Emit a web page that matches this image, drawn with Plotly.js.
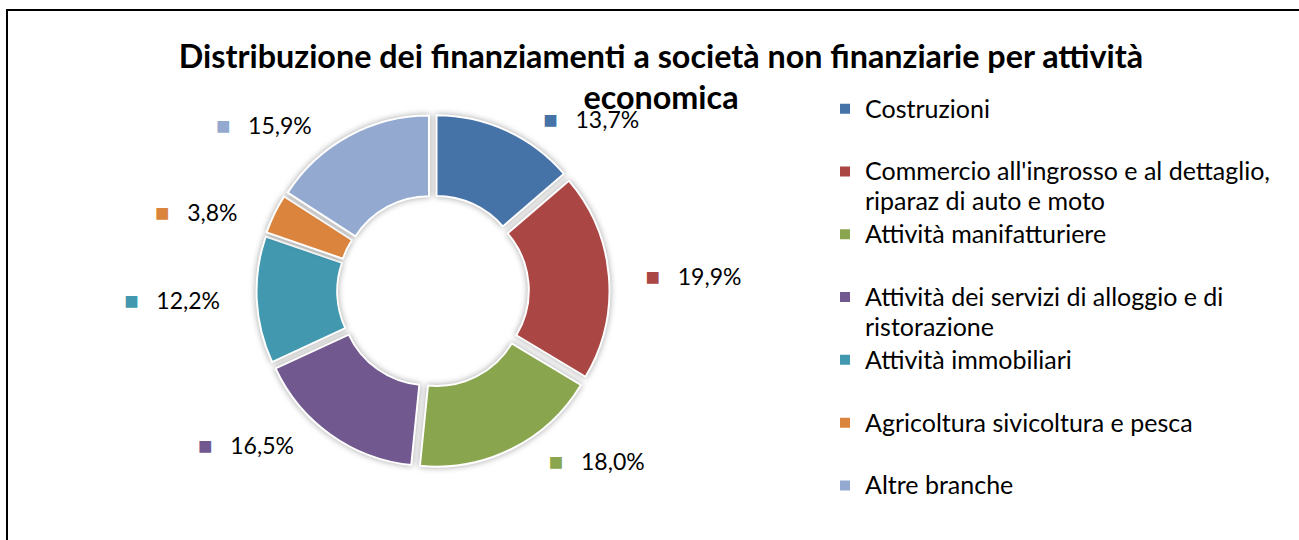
<!DOCTYPE html>
<html><head><meta charset="utf-8">
<script src="https://cdn.plot.ly/plotly-3.0.1.min.js"></script>
<style>
html,body{margin:0;padding:0;background:#fff;overflow:hidden;}
#wrap{position:relative;width:1299px;height:540px;}
#chart{position:absolute;left:0;top:0;width:1299px;height:540px;}
#frame{position:absolute;left:6px;top:9px;width:1400px;height:700px;border-left:2px solid #000;border-top:2px solid #000;pointer-events:none;}
.slice path.surface{filter:drop-shadow(0 0 3px rgba(0,0,0,0.35));}
</style></head><body>
<div id="wrap"><div id="chart"></div><div id="frame"></div></div>
<script>
const titleLines = ["Distribuzione dei finanziamenti a società non finanziarie per attività", "economica"];
const categories = [
  "Costruzioni",
  "Commercio all'ingrosso e al dettaglio,\nriparaz di auto e moto",
  "Attività manifatturiere",
  "Attività dei servizi di alloggio e di\nristorazione",
  "Attività immobiliari",
  "Agricoltura sivicoltura e pesca",
  "Altre branche"
];
const shares = [13.7, 19.9, 18.0, 16.5, 12.2, 3.8, 15.9];
const colors = ["#4572A7", "#AA4643", "#89A54E", "#71588F", "#4198AF", "#DB843D", "#93A9CF"];

// layout constants
const W = 1299, H = 540;
const FONT = "Lato, 'Open Sans', sans-serif";
const LEG_LINE = 29.9;          // line spacing of legend text
const LEG_TXT = 25;             // visible legend text size
const LBL_TXT = 23;
const LBL_PAD = "\u00a0\u00a0\u00a0\u00a0\u00a0";   // symmetric side padding of data labels
const cx = 433, cy = 291, rOuter = 176.5, pull = 0.05;

function legendLabel(c) {
  const lines = c.split("\n");
  if (lines.length === 1) lines.push("");
  return lines.map((l, i) => {
    let s = l ? '<span style="font-size:' + LEG_TXT + 'px">' + l + '</span>' : '';
    if (i === 1) s += '<span style="font-size:' + LEG_TXT + 'px;color:rgba(0,0,0,0)">|</span>';
    return s;
  }).join("<br>");
}
const labels = categories.map(legendLabel);
const valueText = shares.map((v, i) =>
  LBL_PAD + '<span style="color:' + colors[i] + ';font-size:24px">■</span>\u00a0\u00a0\u00a0' +
  v.toFixed(1).replace(".", ",") + '%' + LBL_PAD);

const trace = {
  type: "pie",
  labels: labels,
  values: shares,
  text: valueText,
  textinfo: "text",
  textposition: "outside",
  sort: false,
  direction: "clockwise",
  rotation: 0,
  hole: 0.52,
  pull: shares.map(() => pull),
  marker: {colors: colors, line: {color: "#ffffff", width: 2}},
  outsidetextfont: {family: FONT, size: LBL_TXT, color: "#000"},
  hoverinfo: "none",
  automargin: false,
  domain: {
    x: [(cx - rOuter) / W, (cx + rOuter) / W],
    y: [(H - cy - rOuter) / H, (H - cy + rOuter) / H]
  }
};

const layout = {
  width: W, height: H, autosize: false,
  margin: {l: 0, r: 0, t: 0, b: 0},
  paper_bgcolor: "#fff",
  font: {family: FONT, color: "#000"},
  title: {
    text: titleLines.join("<br>"),
    font: {family: FONT, size: 32.3, color: "#000", weight: "bold"},
    x: 661 / W, xanchor: "center", xref: "container",
    y: 1 - 67.5 / H, yanchor: "top", yref: "container"
  },
  showlegend: true,
  legend: {
    x: 825 / W, xanchor: "left", y: 1 - 87.2 / H, yanchor: "top",
    font: {family: FONT, size: LEG_LINE / 1.3, color: "#000"},
    valign: "top", bgcolor: "rgba(0,0,0,0)"
  }
};

Plotly.newPlot("chart", [trace], layout, {displayModeBar: false, staticPlot: true});
</script>
</body></html>
